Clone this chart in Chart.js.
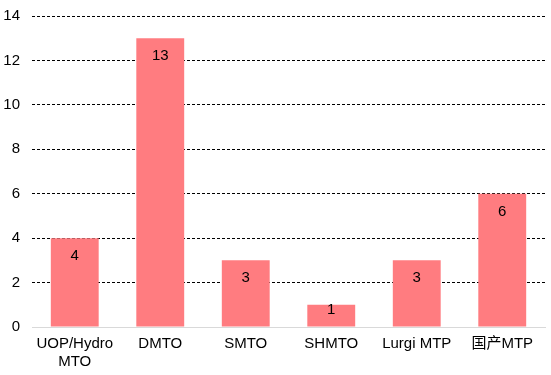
<!DOCTYPE html>
<html>
<head>
<meta charset="utf-8">
<script src="https://cdn.jsdelivr.net/npm/chart.js@4"></script>
<style>
    html, body { margin: 0; padding: 0; background: #fff; }
    #wrap { width: 551px; height: 375px; }
</style>
</head>
<body>
<div id="wrap"><canvas id="chart"></canvas></div>
<script>
const categories = [['UOP/Hydro', 'MTO'], 'DMTO', 'SMTO', 'SHMTO', 'Lurgi MTP', '国产MTP'];
const counts = [4, 13, 3, 1, 3, 6];
const yTicks = [0, 2, 4, 6, 8, 10, 12, 14];

const fontFamily = '"Liberation Sans", Arial, "Noto Sans CJK SC", sans-serif';

// draw the value inside the top of each bar (kept inside short bars)
const barLabels = {
    id: 'barLabels',
    afterDatasetsDraw(chart) {
        const ctx = chart.ctx;
        const meta = chart.getDatasetMeta(0);
        ctx.save();
        ctx.font = '15px ' + fontFamily;
        ctx.fillStyle = '#000';
        ctx.textAlign = 'center';
        ctx.textBaseline = 'middle';
        meta.data.forEach((bar, i) => {
            const y = Math.min(bar.y + 18, bar.base - 16.5);
            ctx.fillText(String(counts[i]), bar.x, y);
        });
        ctx.restore();
    }
};

new Chart(document.getElementById('chart'), {
    type: 'bar',
    data: {
        labels: categories,
        datasets: [{
            data: counts,
            backgroundColor: '#FF7C80',
            borderWidth: 0,
            categoryPercentage: 1,
            barPercentage: 0.56
        }]
    },
    options: {
        responsive: true,
        maintainAspectRatio: false,
        animation: false,
        layout: { padding: { top: 16, right: 6, left: 0, bottom: 0 } },
        plugins: {
            legend: { display: false },
            tooltip: { enabled: false }
        },
        scales: {
            x: {
                grid: { display: false, drawTicks: false },
                border: { color: '#d9d9d9', width: 1 },
                ticks: {
                    color: '#000',
                    font: { family: fontFamily, size: 15 },
                    padding: 8,
                    maxRotation: 0
                },
                afterFit(scale) { scale.height = 48; }
            },
            y: {
                min: 0,
                max: 14,
                afterBuildTicks(scale) { scale.ticks = yTicks.map(v => ({ value: v })); },
                grid: {
                    color: ctx => ctx.tick && ctx.tick.value === 0 ? 'rgba(0,0,0,0)' : '#000',
                    lineWidth: 1,
                    drawTicks: false
                },
                border: { display: false, dash: [3, 2] },
                ticks: {
                    color: '#000',
                    font: { family: fontFamily, size: 15 },
                    padding: 12
                },
                afterFit(scale) {
                    scale.width = 32;
                    scale.paddingTop = 0;
                    scale.paddingBottom = 0;
                }
            }
        }
    },
    plugins: [barLabels]
});
</script>
</body>
</html>
